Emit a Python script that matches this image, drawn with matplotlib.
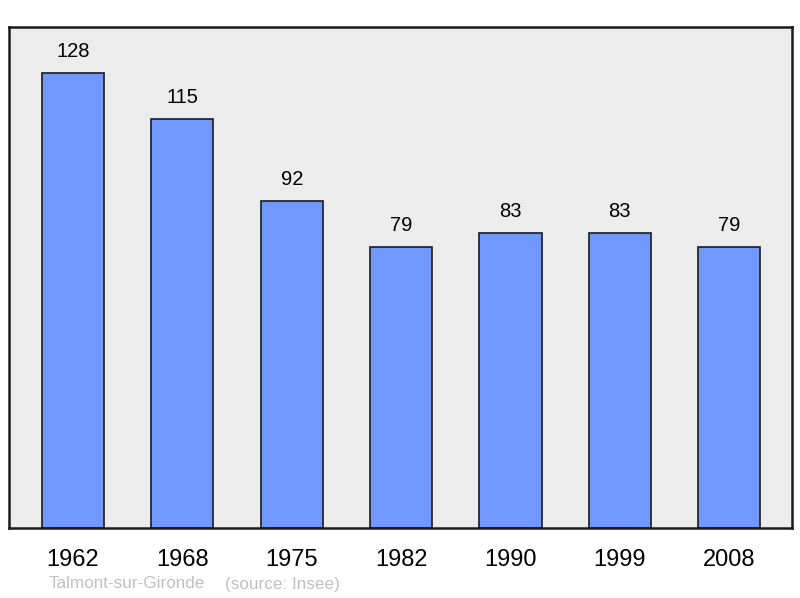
import matplotlib.pyplot as plt

plt.rcParams['font.family'] = ['Liberation Sans', 'DejaVu Sans']

years = ['1962', '1968', '1975', '1982', '1990', '1999', '2008']
population = [128, 115, 92, 79, 83, 83, 79]

W, H = 800, 598
fig = plt.figure(figsize=(W / 100, H / 100), dpi=100)
ax = fig.add_axes([9 / W, (H - 528) / H, 783 / W, 501 / H])
ax.set_facecolor('#ececec')

x = range(len(years))
ax.bar(x, population, width=0.57, color='#7098ff', edgecolor='#1a1a1a',
       linewidth=1.2, zorder=2)

for i, v in enumerate(population):
    ax.text(i, v + 6.2, str(v), ha='center', va='center', fontsize=14.5, color='black')

ax.set_xlim(-0.585, 6.575)
ax.set_ylim(0, 141)
ax.set_xticks(list(x))
ax.set_xticklabels(years, fontsize=17)
ax.tick_params(axis='x', length=0, pad=15)
ax.set_yticks([])
for s in ax.spines.values():
    s.set_linewidth(1.8)
    s.set_color('#1a1a1a')

fig.text(49 / W, 1 - 584 / H, 'Talmont-sur-Gironde', color='#c0c0c0',
         fontsize=12.3, va='center', ha='left')
fig.text(225 / W, 1 - 584 / H, '(source: Insee)', color='#c0c0c0',
         fontsize=12.3, va='center', ha='left')

fig.savefig('out.png', dpi=100)
